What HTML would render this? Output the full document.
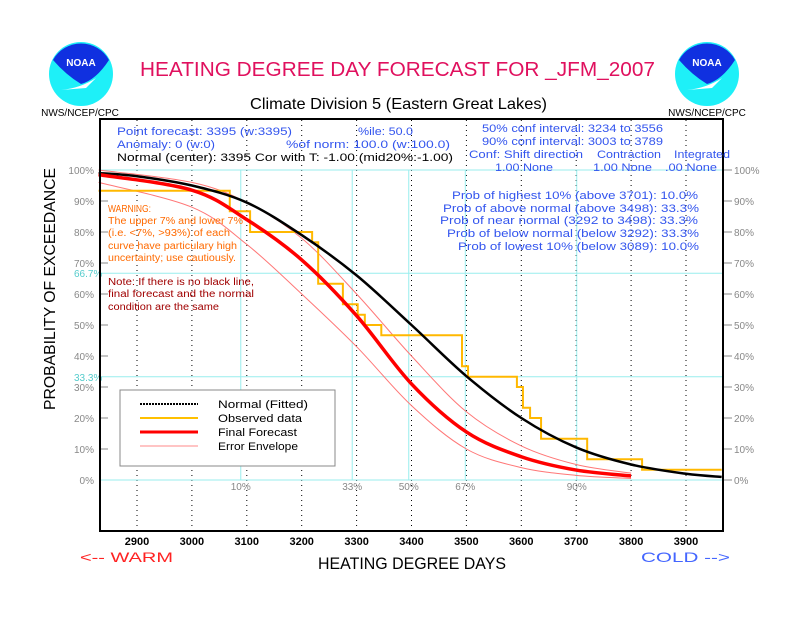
<!DOCTYPE html>
<html><head><meta charset="utf-8"><style>
body{margin:0;background:#fff}
svg text{font-family:"Liberation Sans",sans-serif}
</style></head><body>
<svg id="chart" width="792" height="612" viewBox="0 0 792 612" xmlns="http://www.w3.org/2000/svg">
<rect width="792" height="612" fill="#fff"/>
<g id="logos"></g>
<text x="140" y="76" font-size="20" fill="#e0105e" textLength="515" lengthAdjust="spacingAndGlyphs">HEATING DEGREE DAY FORECAST FOR _JFM_2007</text>
<text x="250" y="109" font-size="16" fill="#000" textLength="297" lengthAdjust="spacingAndGlyphs">Climate Division 5 (Eastern Great Lakes)</text>
<g id="grid"></g>
<g id="series"></g>
<rect x="100" y="119" width="623" height="412" fill="none" stroke="#000" stroke-width="2"/>
<g font-size="11" fill="#3355ee">
<text x="117" y="135" textLength="175" lengthAdjust="spacingAndGlyphs">Point forecast: 3395 (w:3395)</text>
<text x="117" y="148" textLength="98" lengthAdjust="spacingAndGlyphs">Anomaly: 0 (w:0)</text>
<text x="117" y="161" fill="#000" textLength="336" lengthAdjust="spacingAndGlyphs">Normal (center): 3395 Cor with T: -1.00 (mid20%:-1.00)</text>
<text x="358" y="135" textLength="55" lengthAdjust="spacingAndGlyphs">%ile: 50.0</text>
<text x="286" y="148" textLength="164" lengthAdjust="spacingAndGlyphs">%of norm:   100.0 (w:100.0)</text>
<text x="482" y="132" textLength="181" lengthAdjust="spacingAndGlyphs">50% conf interval: 3234 to 3556</text>
<text x="482" y="145" textLength="181" lengthAdjust="spacingAndGlyphs">90% conf interval: 3003 to 3789</text>
<g>
<text x="469" y="158" textLength="114" lengthAdjust="spacingAndGlyphs">Conf: Shift direction</text>
<text x="597" y="158" textLength="64" lengthAdjust="spacingAndGlyphs">Contraction</text>
<text x="674" y="158" textLength="56" lengthAdjust="spacingAndGlyphs">Integrated</text>
</g>
<g>
<text x="495" y="171" textLength="58" lengthAdjust="spacingAndGlyphs">1.00 None</text>
<text x="593" y="171" textLength="59" lengthAdjust="spacingAndGlyphs">1.00 None</text>
<text x="665" y="171" textLength="52" lengthAdjust="spacingAndGlyphs">.00 None</text>
</g>
<text x="452" y="199" textLength="246" lengthAdjust="spacingAndGlyphs">Prob of highest 10% (above 3701): 10.0%</text>
<text x="443" y="212" textLength="256" lengthAdjust="spacingAndGlyphs">Prob of above normal (above 3498): 33.3%</text>
<text x="440" y="224" textLength="258" lengthAdjust="spacingAndGlyphs">Prob of near normal (3292 to 3498): 33.3%</text>
<text x="447" y="237" textLength="252" lengthAdjust="spacingAndGlyphs">Prob of below normal (below 3292): 33.3%</text>
<text x="458" y="250" textLength="241" lengthAdjust="spacingAndGlyphs">Prob of lowest 10% (below 3089): 10.0%</text>
</g>
<g font-size="10" fill="#ff6a00">
<text x="108" y="212" textLength="43" lengthAdjust="spacingAndGlyphs">WARNING:</text>
<text x="108" y="224" textLength="135" lengthAdjust="spacingAndGlyphs">The upper 7% and lower 7%</text>
<text x="108" y="236" textLength="122" lengthAdjust="spacingAndGlyphs">(i.e. &lt;7%, &gt;93%) of each</text>
<text x="108" y="249" textLength="129" lengthAdjust="spacingAndGlyphs">curve have particulary high</text>
<text x="108" y="261" textLength="128" lengthAdjust="spacingAndGlyphs">uncertainty; use cautiously.</text>
</g>
<g font-size="10" fill="#a00000">
<text x="108" y="285" textLength="146" lengthAdjust="spacingAndGlyphs">Note: If there is no black line,</text>
<text x="108" y="297" textLength="146" lengthAdjust="spacingAndGlyphs">final forecast and  the normal</text>
<text x="108" y="310" textLength="111" lengthAdjust="spacingAndGlyphs">condition are the same</text>
</g>
<g>
<rect x="120" y="390" width="215" height="76" fill="#fff" stroke="#888"/>
<line x1="140" y1="404" x2="198" y2="404" stroke="#000" stroke-width="2" stroke-dasharray="2,1"/>
<line x1="140" y1="418" x2="198" y2="418" stroke="#ffc000" stroke-width="2"/>
<line x1="140" y1="432" x2="198" y2="432" stroke="#f00" stroke-width="3"/>
<line x1="140" y1="446" x2="198" y2="446" stroke="#f88" stroke-width="1"/>
<g font-size="11" fill="#000"><text x="218" y="408" textLength="90" lengthAdjust="spacingAndGlyphs">Normal (Fitted)</text><text x="218" y="422" textLength="84" lengthAdjust="spacingAndGlyphs">Observed data</text><text x="218" y="436" textLength="79" lengthAdjust="spacingAndGlyphs">Final Forecast</text><text x="218" y="450" textLength="80" lengthAdjust="spacingAndGlyphs">Error Envelope</text></g>
</g>
<text transform="translate(55,289) rotate(-90)" text-anchor="middle" font-size="16" fill="#000" textLength="242" lengthAdjust="spacingAndGlyphs">PROBABILITY OF EXCEEDANCE</text>
<text x="318" y="569" font-size="17" fill="#000" textLength="188" lengthAdjust="spacingAndGlyphs">HEATING DEGREE DAYS</text>
<text x="80" y="562" font-size="14" fill="#f22" textLength="93" lengthAdjust="spacingAndGlyphs">&lt;-- WARM</text>
<text x="641" y="562" font-size="14" fill="#46f" textLength="89" lengthAdjust="spacingAndGlyphs">COLD --&gt;</text>
</svg>
<script>
const xTicks=[2900,3000,3100,3200,3300,3400,3500,3600,3700,3800,3900];
const yTicks=[0,10,20,30,40,50,60,70,80,90,100];
const pctLabels=['10%','33%','50%','67%','90%'];
const pctValues=[3089,3292,3395,3498,3701];
const normalX=[2830,2900,3000,3100,3200,3300,3400,3500,3600,3700,3800,3900,3965];
const normalP=[99,98,95,89.5,79,66,50,33.5,20,10.5,5,2,1];
const forecastX=[2830,3000,3100,3200,3300,3400,3500,3600,3700,3800];
const forecastP=[98.5,93.5,84,71,53,31,15.5,7.5,3.2,1.3];
const upperX=[2830,3000,3100,3200,3300,3400,3500,3600,3700,3800];
const upperP=[100,96,89.5,78,60,40,22,11,5,2.2];
const lowerX=[2830,3000,3100,3200,3300,3400,3500,3600,3700,3800];
const lowerP=[96,88,76,60,43,24,10,4,1.5,0.5];
const obsBreaks=[2830,3069,3106,3219,3230,3275,3302,3315,3345,3492,3503,3592,3603,3616,3636,3720,3820,3965];
const obsP=[93.3,86.7,80,76.7,63.3,56.7,53.3,50,46.7,36.7,33.3,30,23.3,20,13.3,6.7,3.3];
const NS='http://www.w3.org/2000/svg';
const px=v=>137+(v-2900)*0.549;
const py=p=>480-p*3.1;
function mk(tag,attrs,parent){const e=document.createElementNS(NS,tag);for(const k in attrs)e.setAttribute(k,attrs[k]);parent.appendChild(e);return e;}
const grid=document.getElementById('grid'),series=document.getElementById('series'),logos=document.getElementById('logos');
xTicks.forEach(t=>{
 const l=mk('line',{x1:px(t),x2:px(t),y1:120,y2:530,stroke:'#000','stroke-width':1,'stroke-dasharray':'1,4'},grid);
 
 const tx=mk('text',{x:px(t),y:545,'text-anchor':'middle','font-size':11,'font-weight':'bold',fill:'#000'},grid);
 tx.textContent=t;
});
yTicks.forEach(t=>{
 const a=mk('text',{x:94,y:py(t)+4,'text-anchor':'end','font-size':10,fill:'#888'},grid);
 a.textContent=t+'%';
 const b=mk('text',{x:734,y:py(t)+4,'font-size':10,fill:'#888'},grid);
 b.textContent=t+'%';
 mk('line',{x1:100,x2:108,y1:py(t),y2:py(t),stroke:'#888'},grid);
 mk('line',{x1:723,x2:732,y1:py(t),y2:py(t),stroke:'#888'},grid);
});
[100,66.7,33.3,0].forEach(p=>{
 const l=mk('line',{x1:100,x2:723,y1:py(p),y2:py(p),stroke:'#9ee',"stroke-width":1},grid);
 
});
[['66.7%',66.7],['33.3%',33.3]].forEach(([s,p])=>{const t=mk('text',{x:74,y:py(p)+4,'font-size':10,fill:'#5cc'},grid);t.textContent=s;});
pctValues.forEach((v,i)=>{
 const l=mk('line',{x1:px(v),x2:px(v),y1:py(100),y2:py(0),stroke:'#9ee'},grid);
 
 const t=mk('text',{x:px(v),y:490,'text-anchor':'middle','font-size':10,fill:'#888'},grid);
 t.textContent=pctLabels[i];
});
function smooth(xs,ps){const P=xs.map((x,i)=>[px(x),py(ps[i])]);let d='M'+P[0][0]+','+P[0][1];
 for(let i=0;i<P.length-1;i++){const p0=P[i-1]||P[i],p1=P[i],p2=P[i+1],p3=P[i+2]||p2;
 d+=' C'+(p1[0]+(p2[0]-p0[0])/6)+','+(p1[1]+(p2[1]-p0[1])/6)+' '+(p2[0]-(p3[0]-p1[0])/6)+','+(p2[1]-(p3[1]-p1[1])/6)+' '+p2[0]+','+p2[1];}return d;}
let e;
e=mk('path',{d:smooth(upperX,upperP),fill:'none',stroke:'#f77','stroke-width':1},series);
e=mk('path',{d:smooth(lowerX,lowerP),fill:'none',stroke:'#f77','stroke-width':1},series);
let d='M'+px(obsBreaks[0])+','+py(obsP[0]);
for(let i=0;i<obsP.length;i++){d+=' L'+px(obsBreaks[i+1])+','+py(obsP[i]);if(i+1<obsP.length)d+=' L'+px(obsBreaks[i+1])+','+py(obsP[i+1]);}
e=mk('path',{d:d,fill:'none',stroke:'#ffb800','stroke-width':2},series);
e=mk('path',{d:smooth(normalX,normalP),fill:'none',stroke:'#000','stroke-width':2.5},series);
e=mk('path',{d:smooth(forecastX,forecastP),fill:'none',stroke:'#f00','stroke-width':3.5},series);
[[81,80],[707,707]].forEach(([cx,tx],i)=>{
 const g=mk('g',{},logos);
 mk('circle',{cx:cx,cy:74,r:32,fill:'#1ef0f8'},g);
 mk('path',{d:`M${cx-28},${60} A32,32 0 0 1 ${cx+28},${60} Q${cx+15},${80} ${cx},${84} Q${cx-15},${75} ${cx-28},${60} Z`,fill:'#1030e0'},g);
 mk('path',{d:`M${cx-20},${90} Q${cx},${88} ${cx+15},${78} L${cx+5},${88} Z`,fill:'#fff'},g);
 const t=mk('text',{x:cx,y:66,'text-anchor':'middle','font-size':10,'font-weight':'bold',fill:'#fff'},g);t.textContent='NOAA';
 const n=mk('text',{x:tx,y:116,'text-anchor':'middle','font-size':10,fill:'#000'},g);n.textContent='NWS/NCEP/CPC';
});
</script>
</body></html>
